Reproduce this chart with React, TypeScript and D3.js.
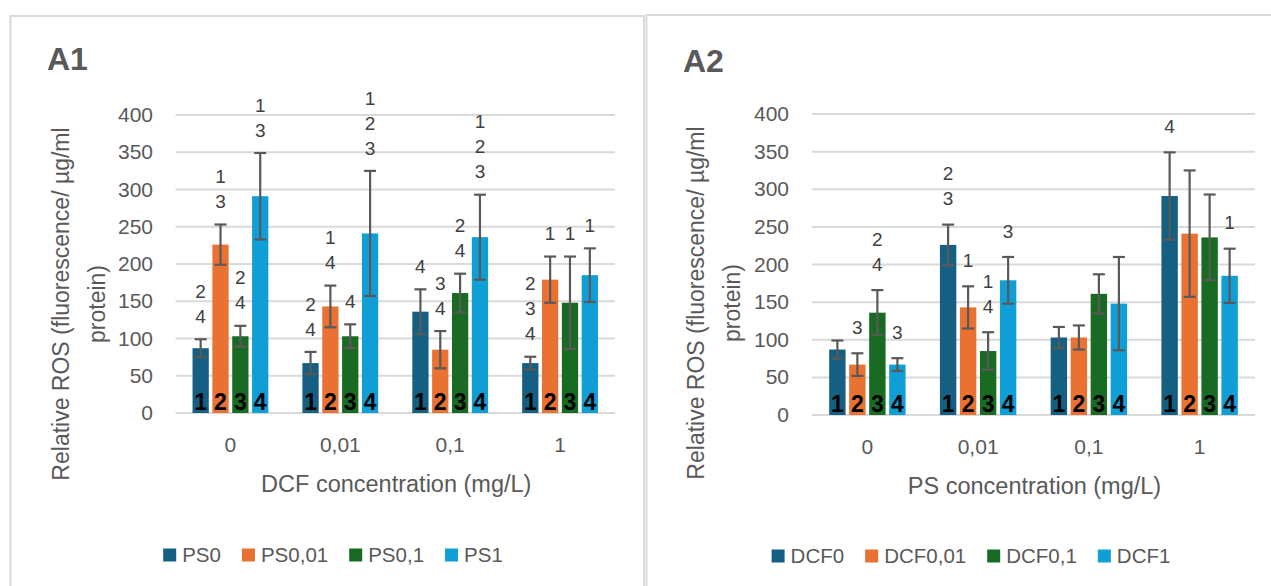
import React, { useEffect, useRef } from 'react';
import * as d3 from 'd3';

const dcfLevels = ['0', '0,01', '0,1', '1'];
const psLevels = ['0', '0,01', '0,1', '1'];
const psSeries = ['PS0', 'PS0,01', 'PS0,1', 'PS1'];
const dcfSeries = ['DCF0', 'DCF0,01', 'DCF0,1', 'DCF1'];
const seriesColors = ['#156082', '#E97132', '#196B24', '#0F9ED5'];
const yTicks = [0, 50, 100, 150, 200, 250, 300, 350, 400];

// mean relative ROS, rows = DCF level, columns = PS level
const rosMean = [
  [87, 226, 103, 291],
  [67, 143, 103, 241],
  [136, 85, 161, 236],
  [67, 179, 148, 185],
];
// error bar half-length, same layout
const rosErr = [
  [12, 27, 14, 58],
  [15, 28, 16, 84],
  [30, 25, 26, 57],
  [8.5, 31, 62, 36],
];
// significance letters, A1 (rows = DCF level, cols = PS series)
const lettersA1 = [
  ['2\n4', '1\n3', '2\n4', '1\n3'],
  ['2\n4', '1\n4', '4', '1\n2\n3'],
  ['4', '3\n4', '2\n4', '1\n2\n3'],
  ['2\n3\n4', '1', '1', '1'],
];
// A2 (rows = PS level, cols = DCF series)
const lettersA2 = [
  ['', '3', '2\n4', '3'],
  ['2\n3', '1', '1\n4', '3'],
  ['', '', '', ''],
  ['4', '', '', '1'],
];
const barNumbers = ['1', '2', '3', '4'];

const FONT = '"Liberation Sans", Arial, sans-serif';
const GREY = '#595959';

function transpose(m: number[][]) {
  return m[0].map((_, j) => m.map((row) => row[j]));
}

function drawPanel(g: any, cfg: any) {
  const x0 = d3.scaleBand().domain(cfg.categories).range([cfg.x0, cfg.x1]).paddingInner(0.31).paddingOuter(0.155);
  const x1 = d3.scaleBand().domain(cfg.series).range([0, x0.bandwidth()]).paddingInner(0.18);
  const y = d3.scaleLinear().domain([0, 400]).range([cfg.yBottom, cfg.yTop]);

  // frame
  g.append('rect')
    .attr('x', cfg.frame[0]).attr('y', cfg.frame[1])
    .attr('width', cfg.frame[2]).attr('height', 700)
    .attr('fill', 'white').attr('stroke', '#d9d9d9').attr('stroke-width', 2);

  g.append('text').attr('x', cfg.titleX).attr('y', cfg.titleY)
    .attr('font-family', FONT).attr('font-weight', 'bold').attr('font-size', 32)
    .attr('fill', GREY).text(cfg.title);

  // gridlines
  g.selectAll('.grid').data(yTicks).enter().append('line')
    .attr('x1', cfg.x0).attr('x2', cfg.x1)
    .attr('y1', (d: number) => y(d)).attr('y2', (d: number) => y(d))
    .attr('stroke', '#d9d9d9').attr('stroke-width', 2);

  g.selectAll('.ytick').data(yTicks).enter().append('text')
    .attr('x', cfg.tickX).attr('y', (d: number) => y(d) + 7)
    .attr('text-anchor', 'end').attr('font-family', FONT).attr('font-size', 21)
    .attr('fill', GREY).text((d: number) => d);

  g.selectAll('.xtick').data(cfg.categories).enter().append('text')
    .attr('x', (d: string) => x0(d)! + x0.bandwidth() / 2).attr('y', cfg.yBottom + 39)
    .attr('text-anchor', 'middle').attr('font-family', FONT).attr('font-size', 21)
    .attr('fill', GREY).text((d: string) => d);

  g.append('text').attr('x', (cfg.x0 + cfg.x1) / 2 + 1).attr('y', cfg.yBottom + 79)
    .attr('text-anchor', 'middle').attr('font-family', FONT).attr('font-size', 23.5)
    .attr('fill', GREY).text(cfg.xTitle);

  cfg.yTitle.forEach((line: string, i: number) => {
    g.append('text')
      .attr('transform', `translate(${cfg.yTitleX[i]},${cfg.yTitleCy}) rotate(-90)`)
      .attr('dy', '0.35em').attr('text-anchor', 'middle')
      .attr('font-family', FONT).attr('font-size', 23).attr('fill', GREY).text(line);
  });

  cfg.categories.forEach((cat: string, ci: number) => {
    const grp = g.append('g').attr('transform', `translate(${x0(cat)},0)`);
    cfg.series.forEach((s: string, si: number) => {
      const v = cfg.values[ci][si];
      const e = cfg.errors[ci][si];
      const bx = x1(s)!;
      const cx = bx + x1.bandwidth() / 2;
      grp.append('rect').attr('x', bx).attr('y', y(v))
        .attr('width', x1.bandwidth()).attr('height', y(0) - y(v))
        .attr('fill', seriesColors[si]);
      grp.append('text').attr('x', cx).attr('y', y(0) - 3)
        .attr('text-anchor', 'middle').attr('font-family', FONT)
        .attr('font-weight', 'bold').attr('font-size', 23).attr('fill', '#000')
        .text(barNumbers[si]);
      const eb = grp.append('g').attr('stroke', GREY).attr('stroke-width', 2.2);
      eb.append('line').attr('x1', cx).attr('x2', cx).attr('y1', y(v + e)).attr('y2', y(v - e));
      [v + e, v - e].forEach((t) => {
        eb.append('line').attr('x1', cx - 6).attr('x2', cx + 6).attr('y1', y(t)).attr('y2', y(t));
      });
      const letters = cfg.letters[ci][si] ? cfg.letters[ci][si].split('\n') : [];
      letters.forEach((l: string, li: number) => {
        const cy = y(v + e) - cfg.labelGap - (letters.length - 1 - li) * 25;
        grp.append('text').attr('x', cx).attr('y', cy).attr('dy', '0.35em')
          .attr('text-anchor', 'middle').attr('font-family', FONT)
          .attr('font-size', 19).attr('fill', '#404040').text(l);
      });
    });
  });

  // legend
  const leg = g.append('g');
  let lx = 0;
  cfg.series.forEach((s: string, si: number) => {
    leg.append('rect').attr('x', lx).attr('y', cfg.legendY - 6.5).attr('width', 13).attr('height', 13)
      .attr('fill', seriesColors[si]);
    const t = leg.append('text').attr('x', lx + 19).attr('y', cfg.legendY + 7)
      .attr('font-family', FONT).attr('font-size', 20.5).attr('fill', GREY).text(s);
    const w = (t.node() as SVGTextElement).getComputedTextLength();
    lx += 19 + w + (si < cfg.series.length - 1 ? 21 : 0);
  });
  leg.attr('transform', `translate(${cfg.legendCx - lx / 2},0)`);
}

export default function App() {
  const ref = useRef<SVGSVGElement>(null);

  useEffect(() => {
    const svg = d3.select(ref.current);
    svg.selectAll('*').remove();
    svg.append('rect').attr('width', 1271).attr('height', 586).attr('fill', 'white');

    drawPanel(svg.append('g'), {
      title: 'A1', titleX: 47, titleY: 70,
      frame: [10.5, 16, 633.5],
      categories: dcfLevels, series: psSeries,
      values: rosMean, errors: rosErr, letters: lettersA1,
      x0: 175.5, x1: 615, yTop: 115, yBottom: 413, tickX: 153,
      xTitle: 'DCF concentration (mg/L)',
      yTitle: ['Relative ROS (fluorescence/ µg/ml', 'protein)'], yTitleX: [61, 97], yTitleCy: 304,
      labelGap: 23, legendY: 555, legendCx: 333,
    });

    drawPanel(svg.append('g'), {
      title: 'A2', titleX: 683, titleY: 72,
      frame: [646.5, 15, 700],
      categories: psLevels, series: dcfSeries,
      values: transpose(rosMean), errors: transpose(rosErr), letters: lettersA2,
      x0: 812, x1: 1255, yTop: 114, yBottom: 415, tickX: 789,
      xTitle: 'PS concentration (mg/L)',
      yTitle: ['Relative ROS (fluorescence/ µg/ml', 'protein)'], yTitleX: [696, 732], yTitleCy: 303,
      labelGap: 26, legendY: 556, legendCx: 971,
    });
  }, []);

  return (
    <svg ref={ref} width={1271} height={586}
      style={{ position: 'absolute', left: 0, top: 0, display: 'block' }} />
  );
}
